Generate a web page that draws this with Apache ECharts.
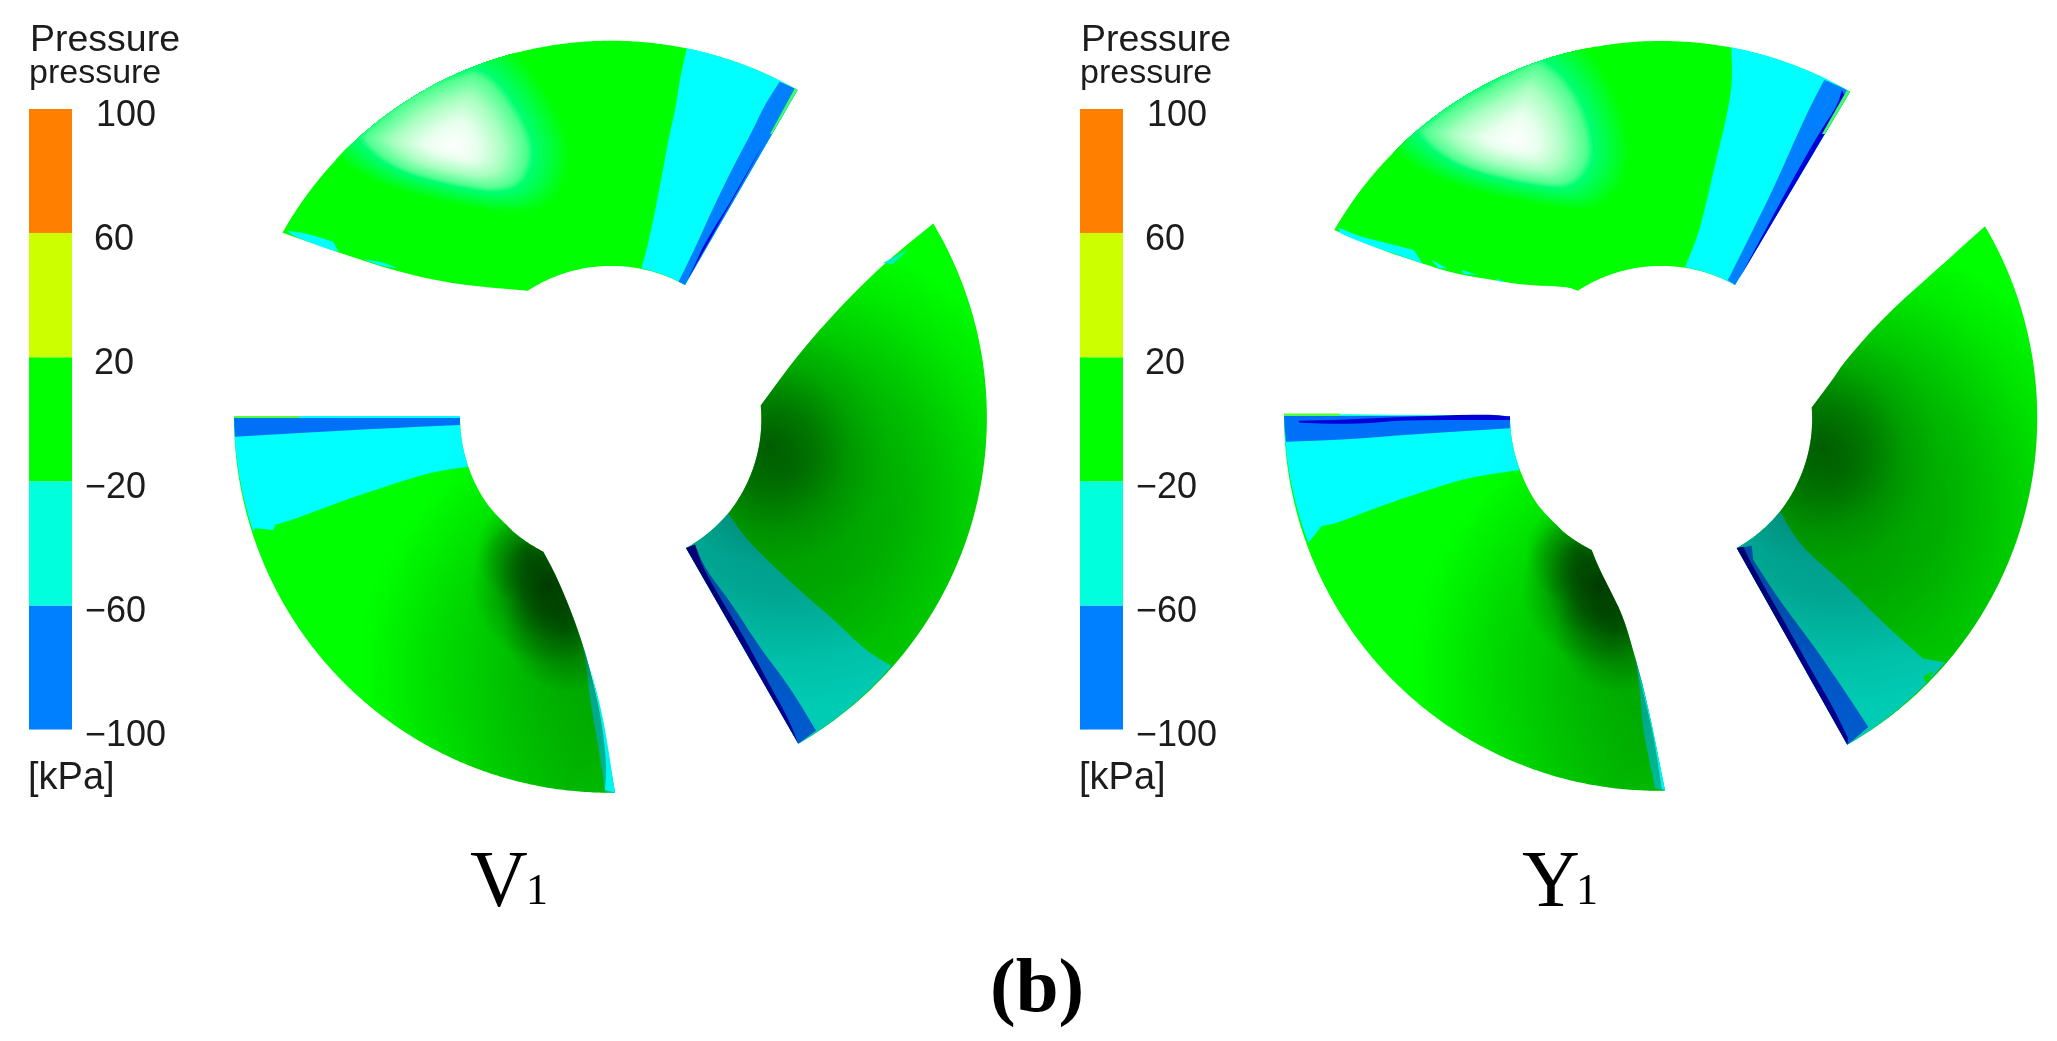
<!DOCTYPE html>
<html><head><meta charset="utf-8">
<style>html,body{margin:0;padding:0;background:#fff}#c{width:2057px;height:1041px}</style>
<script src="https://cdn.jsdelivr.net/npm/echarts@6/dist/echarts.min.js"></script>
</head><body><div id="c"></div>
<script>
// ---------- colour scale ----------
const scaleTicks = [-100, -60, -20, 20, 60, 100];
const scaleColors = ['#0080ff', '#00ffdd', '#00ff00', '#ccff00', '#ff8000'];

// ---------- contour geometry (x, y in picture units) ----------
const vTopOutline = [[282.5,232.7],[797.5,90],[685,285],[527.9,290.7],[460,285],[402.9,273.3],[345.7,255]];
const vTopCyan = [[686.8,48.3],[679.6,80],[676,106.7],[669,136.7],[663.6,166.7],[654.6,213.3],[647.5,246.7],[641.4,268.3],[685,285],[797.5,90]];
const vTopBlue = [[779.6,81.7],[763.6,106.7],[752.9,130],[735,163.3],[713.6,206.7],[695.7,246.7],[678.6,281.7],[685,285],[797.5,90]];
const vTopNavy = [[763.6,143],[730.7,201.7],[719,220],[702.9,246.7],[693.9,266.7],[688,279],[712,236],[745,178]];
const vTopEdge = [[797.5,90],[795,88],[770,134],[772,134]];
const vTopSpot1 = [[286.8,230.7],[306.4,233.3],[333.2,241.7],[338.6,251.7],[320.7,246.7],[292,235]];
const vTopSpot2 = [[363.6,259.3],[381.4,261.7],[397.5,268.3],[381.4,266]];
const vTopGlow = [[363.6,138.3],[383.2,120],[410,100],[438.6,85],[474.3,73.3],[492.1,83.3],[510,106.7],[526,136.7],[527.9,160],[517.1,183.3],[492.1,190],[452.9,183.3],[413.6,173.3],[392.1,163.3],[377.9,153.3]];
const vTopGlowCentre = [453,146];

const vRightOutline = [[933.3,223.6],[798.3,743.7],[686,548.1],[728.3,513.3],[760,439.7],[760.7,405.6],[793.3,360.8],[833.3,314],[883.3,263.8]];
const vRightTeal = [[728.3,513.3],[746.7,540.2],[793.3,585],[833.3,619.2],[866.7,651.5],[891.7,665.9],[798.3,743.7],[686,548.1]];
const vRightBlue = [[695,544.5],[705,569],[730,601.2],[760,647.9],[790,687.4],[816,730.5],[798.3,743.7],[686,548.1]];
const vRightNavy = [[686,548.1],[695,544.5],[701.7,565.3],[720,597.6],[746,640.7],[771,687.4],[789,719.7],[798.3,743.7]];
const vRightSpeck = [[883,263],[908,249.5],[905,253],[893,264]];
const vRightSweep = [[900,260],[780,600]];
const vRightHub = [768,445];
const vRightWide = [790,470];

const vLeftOutline = [[234,416],[460,416],[468.3,466.7],[486.7,503.3],[506.7,525],[513.3,531.7],[543.3,551.7],[556.7,576.7],[573.3,616.7],[586.7,656.7],[600,710],[615,792.7]];
const vLeftCyan = [[234,416],[460,416],[468.3,466.7],[433.3,471.7],[400,481.7],[370,491.7],[350,498.3],[323.3,508.3],[296.7,518.3],[275,525],[273.3,530],[255,528.3],[253.3,531.7]];
const vLeftBlue = [[234,418],[460,418],[460,425],[386.7,428.3],[320,431.7],[235,436.7]];
const vLeftLine = [[234,416],[300,416],[300,418],[234,418]];
const vLeftTeal = [[581.7,643.3],[586.7,656.7],[600,710],[615,792.7],[605,791.7],[601.7,766.7],[596.7,736.7],[590,700],[586.7,666.7]];
const vLeftBright = [[590,666.7],[603.3,716.7],[615,792.7],[605,790],[606.7,766.7],[601.7,720]];
const vLeftSweep = [[380,620],[600,700]];
const vLeftDark = [549,586];
const vLeftDarkUp = [527,552];
const vLeftDarkDown = [568,628];
const vLeftWide = [560,650];

const yTopOutline = [[1334.3,230],[1850,91.7],[1735,285],[1577.9,290.7],[1567,286.7],[1524.3,285],[1502.9,281.7],[1452.9,273.3],[1417,261.7],[1381.4,250]];
const yTopCyan = [[1731.4,47.3],[1732.5,83.3],[1726,120],[1715.4,163.3],[1704.6,210],[1697.5,236.7],[1685,267.3],[1735,285],[1850,91.7]];
const yTopBlue = [[1824.3,80],[1813.6,100],[1799.3,130],[1774.3,186.7],[1752.9,230],[1727.9,280],[1735,285],[1850,91.7]];
const yTopNavy = [[1842,90],[1836.8,106.7],[1820.7,130],[1788.6,186.7],[1763.6,233.3],[1736.8,283.3],[1740.4,276.7],[1845.7,98.3]];
const yTopEdge = [[1850,91.7],[1847,90],[1822,134],[1825,134]];
const yTopSpot1 = [[1337.9,227.3],[1360,236.7],[1381.4,241.7],[1413.6,250],[1422.5,263.3],[1402.9,256.7],[1363.6,243.3],[1340.4,233.3]];
const yTopSpot2 = [[1431.4,260],[1447.5,268.3],[1438.6,268.3]];
const yTopSpot3 = [[1461.8,270],[1477.9,275],[1463.6,274]];
const yTopSpot4 = [[1495.7,278.3],[1504.6,281.7],[1499.3,281.7]];
const yTopGlow = [[1422.5,131.7],[1452.9,108.3],[1488.6,88.3],[1538.6,63.3],[1560,80],[1577.9,106.7],[1588.6,143.3],[1585,166.7],[1567.1,185],[1538.6,183.3],[1495.7,175],[1460,163.3],[1435,146.7]];
const yTopGlowCentre = [1513.6,140];

const yRightOutline = [[1985,226.2],[1847.3,744.8],[1736.7,548.1],[1780,511.5],[1810.7,439.7],[1811.7,407.4],[1833.3,378.7],[1845,360.8],[1886.7,314],[1943.3,263.8]];
const yRightTeal = [[1780,511.5],[1793.3,534.8],[1810,554.6],[1843.3,583.3],[1886.7,626.4],[1923.3,658.7],[1945,662.3],[1847.3,744.8],[1736.7,548.1]];
const yRightBlue = [[1751.7,545.6],[1753.3,560],[1780,601.2],[1810,640.7],[1840,683.8],[1868.3,726.9],[1847.3,744.8],[1736.7,548.1]];
const yRightNavy = [[1736.7,548.1],[1743.3,546.7],[1752,565],[1785,623],[1813,673],[1834,709],[1848,738],[1847.3,744.8]];
const yRightSpeck = [[1923.3,676.6],[1933.3,671.3],[1926.7,683.8]];
const yRightSweep = [[1950.5,260],[1830.5,600]];
const yRightHub = [1818.5,445];
const yRightWide = [1840.5,470];

const yLeftOutline = [[1284,414],[1510,416],[1520,470],[1536.7,503.3],[1556.7,525],[1563.3,531.7],[1591.7,550],[1598.3,566.7],[1610,590],[1623.3,616.7],[1635,656.7],[1646.7,700],[1665,790.7]];
const yLeftCyan = [[1284,414],[1510,416],[1520,470],[1470,477.3],[1436.7,487.3],[1403.3,498.3],[1370,510],[1336.7,523.3],[1321.7,526],[1308.3,542.7]];
const yLeftBlue = [[1284,416],[1510,416],[1510,428.3],[1403.3,435],[1336.7,440],[1286,441.7]];
const yLeftNavy = [[1298.3,420.7],[1336.7,420],[1403.3,416.7],[1490,414],[1510,416.7],[1510,420],[1403.3,420],[1370,423.3],[1336.7,424],[1300,422.7]];
const yLeftLine = [[1284,413.5],[1340,413.5],[1340,416],[1284,416]];
const yLeftTeal = [[1635,656.7],[1646.7,700],[1665,790.7],[1655,788],[1645,740],[1642,720],[1640,690]];
const yLeftBright = [[1636.7,666.7],[1650,713.3],[1665,790.7],[1661.7,788.3],[1653.3,733]];
const yLeftSweep = [[1430.5,620],[1650.5,700]];
const yLeftDark = [1599.5,586];
const yLeftDarkUp = [1577.5,552];
const yLeftDarkDown = [1618.5,628];
const yLeftWide = [1610.5,650];

const rotorCentres = [[610,418],[1660.5,418]];
const rotorRadii = [377,151];

// ---------- drawing ----------
const { LinearGradient, RadialGradient } = echarts.graphic;
const GREEN='#00ff00', CYAN='#00ffff', TEALBASE='#00ffe0', BLUE='#0080ff', BLUE2='#0070f8', NAVY='#0000d8', DEEP='#0000b0';

function followArcs(points, centre){
  const out=[];
  for(let i=0;i<points.length;i++){
    const a=points[i], b=points[(i+1)%points.length];
    out.push(a);
    const ra=Math.hypot(a[0]-centre[0],a[1]-centre[1]), rb=Math.hypot(b[0]-centre[0],b[1]-centre[1]);
    if(rotorRadii.some(r=>Math.abs(ra-r)<9&&Math.abs(rb-r)<9)){
      const t0=Math.atan2(a[1]-centre[1],a[0]-centre[0]);
      let dt=Math.atan2(b[1]-centre[1],b[0]-centre[0])-t0;
      if(dt>Math.PI)dt-=2*Math.PI; if(dt<-Math.PI)dt+=2*Math.PI;
      const n=Math.ceil(Math.abs(dt)/0.03);
      for(let k=1;k<n;k++){
        const f=k/n,r=ra+(rb-ra)*f,t=t0+dt*f;
        out.push([centre[0]+r*Math.cos(t),centre[1]+r*Math.sin(t)]);
      }
    }
  }
  return out;
}
// soften gentle bends of a traced contour, keep real corners
function soften(points,maxTurn){
  const n=points.length,out=[];
  for(let i=0;i<n;i++){
    const p=points[(i+n-1)%n],c=points[i],q=points[(i+1)%n];
    let t=Math.atan2(q[1]-c[1],q[0]-c[0])-Math.atan2(c[1]-p[1],c[0]-p[0]);
    while(t>Math.PI)t-=2*Math.PI; while(t<-Math.PI)t+=2*Math.PI;
    if(Math.abs(t)>maxTurn){out.push(c);continue;}
    out.push([c[0]+(p[0]-c[0])*.25,c[1]+(p[1]-c[1])*.25],[c[0]+(q[0]-c[0])*.25,c[1]+(q[1]-c[1])*.25]);
  }
  return out;
}
const shape=(pts,panel,turn)=>{let s=followArcs(pts,rotorCentres[panel]);s=soften(s,turn||0.42);s=soften(s,turn||0.42);return s;};
const layers=[];
function add(points,panel,fill,extra){ layers.push(Object.assign({points:shape(points,panel),fill,panel},extra||{})); }
const black=a=>'rgba(0,0,0,'+a+')';
const linearShade=(line,stops)=>({kind:'l',line,stops});
const radialShade=(centre,r,stops)=>({kind:'r',centre,r,stops});
const sweepStops=[[0,black(0)],[.5,black(.1)],[1,black(.2)]];
const hubStops=[[0,black(.4)],[.35,black(.27)],[.7,black(.08)],[1,black(0)]];
const wideStops=[[0,black(.34)],[.5,black(.2)],[.8,black(.06)],[1,black(0)]];
const darkStops=[[0,black(.62)],[.35,black(.48)],[.7,black(.16)],[1,black(0)]];
const softStops=[[0,black(.38)],[.6,black(.17)],[1,black(0)]];
// colour of the pressure peak against its relative distance from the peak centre
const glowLevels=[[1.6,[0,255,0]],[1.25,[0,255,80]],[1.1,[0,255,112]],[1,[80,255,144]],[.7,[168,255,192]],[.35,[232,255,238]],[0,[255,255,255]]];

function peak(p,o,glow,c){
  const base=shape(glow,p,3.2);
  for(let f=1.6;f>0.02;f-=0.025){
    let i=0; while(i<glowLevels.length-2&&f<glowLevels[i+1][0])i++;
    const A=glowLevels[i],B=glowLevels[i+1],m=(A[0]-f)/(A[0]-B[0]);
    const col='rgb('+A[1].map((v,k)=>Math.round(v+(B[1][k]-v)*m)).join(',')+')';
    layers.push({points:base.map(q=>[c[0]+(q[0]-c[0])*f,c[1]+(q[1]-c[1])*f]),fill:col,panel:p,clip:o});
  }
}
function topBlade(p,o,glow,gc,cy,bl,nv,edge,spots){
  add(o,p,GREEN);
  peak(p,o,glow,gc);
  add(cy,p,CYAN); add(bl,p,BLUE); add(nv,p,NAVY);
  add(edge,p,'#40ff60');
  spots.forEach(s=>add(s,p,CYAN));
}
function rightBlade(p,o,te,bl,nv,sw,hub,wide,sp,spCol){
  add(o,p,GREEN); add(te,p,TEALBASE); add(bl,p,'#0070ff'); add(nv,p,DEEP);
  add(o,p,linearShade(sw,sweepStops));
  add(o,p,radialShade(wide,240,wideStops));
  add(o,p,radialShade(hub,120,hubStops));
  add(sp,p,spCol);
}
function leftBlade(p,o,cy,bl,extra,line,te,br,sw,d,du,dd,wide){
  add(o,p,GREEN); add(cy,p,CYAN); add(bl,p,BLUE2);
  extra.forEach(e=>add(e,p,NAVY));
  add(line,p,'#50ff40');
  add(te,p,'#00ffd0');
  add(o,p,linearShade(sw,[[0,black(0)],[.5,black(.08)],[1,black(.22)]]));
  add(o,p,radialShade(wide,200,[[0,black(.22)],[.6,black(.1)],[1,black(0)]]));
  add(o,p,radialShade(d,78,darkStops));
  add(o,p,radialShade(du,52,softStops));
  add(o,p,radialShade(dd,64,softStops));
  add(br,p,'#00f4f0');
}
topBlade(0,vTopOutline,vTopGlow,vTopGlowCentre,vTopCyan,vTopBlue,vTopNavy,vTopEdge,[vTopSpot1,vTopSpot2]);
rightBlade(0,vRightOutline,vRightTeal,vRightBlue,vRightNavy,vRightSweep,vRightHub,vRightWide,vRightSpeck,'#00f0c0');
leftBlade(0,vLeftOutline,vLeftCyan,vLeftBlue,[],vLeftLine,vLeftTeal,vLeftBright,vLeftSweep,vLeftDark,vLeftDarkUp,vLeftDarkDown,vLeftWide);
topBlade(1,yTopOutline,yTopGlow,yTopGlowCentre,yTopCyan,yTopBlue,yTopNavy,yTopEdge,[yTopSpot1,yTopSpot2,yTopSpot3,yTopSpot4]);
rightBlade(1,yRightOutline,yRightTeal,yRightBlue,yRightNavy,yRightSweep,yRightHub,yRightWide,yRightSpeck,'#00d800');
leftBlade(1,yLeftOutline,yLeftCyan,yLeftBlue,[yLeftNavy],yLeftLine,yLeftTeal,yLeftBright,yLeftSweep,yLeftDark,yLeftDarkUp,yLeftDarkDown,yLeftWide);

function toFill(f,api){
  if(typeof f==='string')return f;
  const stops=f.stops.map(s=>({offset:s[0],color:s[1]}));
  if(f.kind==='l'){const a=api.coord(f.line[0]),b=api.coord(f.line[1]);return new LinearGradient(a[0],a[1],b[0],b[1],stops,true);}
  const c=api.coord(f.centre);return new RadialGradient(c[0],c[1],f.r,stops,true);
}
const renderContour=(params,api)=>{
  const L=layers[params.dataIndex];
  const el={type:'polygon',silent:true,shape:{points:L.points.map(p=>api.coord(p))},style:{fill:toFill(L.fill,api)}};
  if(L.clip){el.clipPath={type:'polygon',shape:{points:shape(L.clip,L.panel).map(p=>api.coord(p))}};}
  return el;
};
const renderScale=(params,api)=>{
  const i=params.dataIndex;
  const a=api.coord([0,scaleTicks[i+1]]),b=api.coord([1,scaleTicks[i]]);
  return {type:'rect',silent:true,shape:{x:a[0],y:a[1],width:b[0]-a[0],height:b[1]-a[1]},style:{fill:scaleColors[i]}};
};
const bandIndex=scaleColors.map((c,i)=>[i]);
const labelFont={fontSize:36,fontFamily:'Liberation Sans',color:'#1c1c1c'};
const scaleAxis=(idx)=>({
  type:'value',gridIndex:idx,position:'right',min:-100,max:100,
  axisLine:{show:false},splitLine:{show:false},
  axisTick:{show:true,length:8,lineStyle:{color:'#e8e8e8',width:1},customValues:scaleTicks},
  axisLabel:Object.assign({show:true,margin:13,align:'left',customValues:scaleTicks,
    formatter:v=>v<0?'{n|\u2212'+Math.abs(v)+'}':(v===100?'{h|'+v+'}':'{p|'+v+'}'),
    rich:{n:Object.assign({padding:[14,0,0,0]},labelFont),
          p:Object.assign({padding:[14,0,0,9]},labelFont),
          h:Object.assign({padding:[14,0,0,11]},labelFont)}},labelFont)
});
const sans=(x,y,text,size)=>({type:'text',x,y,silent:true,style:{text,fontFamily:'Liberation Sans',fontSize:size,fill:'#1c1c1c',verticalAlign:'middle'}});
const serif=(x,y,text,size,weight)=>({type:'text',x,y,silent:true,style:{text,fontFamily:'Liberation Serif',fontSize:size,fontWeight:weight||'normal',fill:'#000',verticalAlign:'bottom'}});

const chart=echarts.init(document.getElementById('c'),null,{renderer:'canvas'});
chart.setOption({
  animation:false,backgroundColor:'#fff',
  grid:[{left:0,top:0,width:2057,height:1041},{left:29,top:109,width:43,height:620.5},{left:1080,top:109,width:43,height:620.5}],
  xAxis:[{type:'value',gridIndex:0,min:0,max:2057,show:false},{type:'value',gridIndex:1,min:0,max:1,show:false},{type:'value',gridIndex:2,min:0,max:1,show:false}],
  yAxis:[{type:'value',gridIndex:0,min:0,max:1041,inverse:true,show:false},scaleAxis(1),scaleAxis(2)],
  series:[
    {type:'custom',coordinateSystem:'cartesian2d',xAxisIndex:0,yAxisIndex:0,clip:false,silent:true,renderItem:renderContour,data:layers.map((l,i)=>[i])},
    {type:'custom',coordinateSystem:'cartesian2d',xAxisIndex:1,yAxisIndex:1,silent:true,renderItem:renderScale,data:bandIndex},
    {type:'custom',coordinateSystem:'cartesian2d',xAxisIndex:2,yAxisIndex:2,silent:true,renderItem:renderScale,data:bandIndex}
  ],
  graphic:[
    sans(30,41,'Pressure',37.5),sans(29,74,'pressure',34),sans(28,779,'[kPa]',38),
    sans(1081,41,'Pressure',37.5),sans(1080,74,'pressure',34),sans(1079,779,'[kPa]',38),
    serif(470,925,'V',80),serif(526,914,'1',44),
    serif(1522,925,'Y',80),serif(1576,914,'1',44),
    serif(990,1030,'(b)',77,'bold')
  ]
});
</script></body></html>
